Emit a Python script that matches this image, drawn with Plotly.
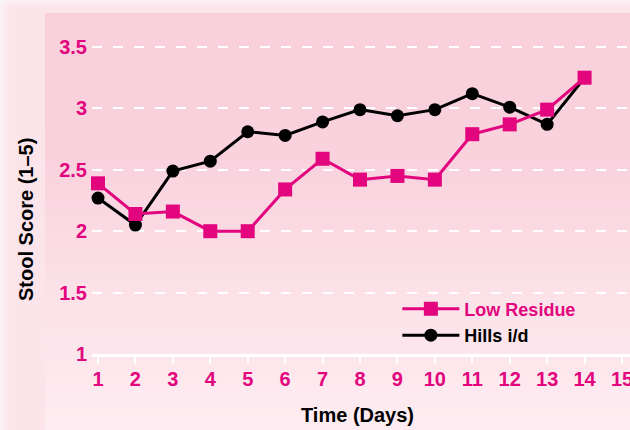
import plotly.graph_objects as go

# ---- data ----
days = list(range(1, 15))
low_residue = [2.39, 2.14, 2.16, 2.00, 2.00, 2.34, 2.59, 2.42, 2.45, 2.42, 2.79, 2.87, 2.99, 3.25]
hills_id = [2.27, 2.05, 2.49, 2.57, 2.81, 2.78, 2.89, 2.99, 2.94, 2.99, 3.12, 3.01, 2.87, 3.25]
x_ticks = list(range(1, 16))
x_tick_labels = [str(v) for v in x_ticks]
y_ticks = [1, 1.5, 2, 2.5, 3, 3.5]
y_tick_labels = ["1", "1.5", "2", "2.5", "3", "3.5"]

PINK = "#e2057e"
FONT = "'Liberation Sans', Arial, sans-serif"
W, H = 630, 430
L, T, B = 92, 14, 76
PW, PH = W - L, H - T - B


def px_x(p):
    return (p - L) / PW


def px_y(p):
    return (H - B - p) / PH


fig = go.Figure()
fig.add_trace(go.Scatter(
    x=days, y=hills_id, name="Hills i/d", mode="lines+markers",
    line=dict(color="black", width=3),
    marker=dict(symbol="circle", size=13, color="black"),
    cliponaxis=False,
))
fig.add_trace(go.Scatter(
    x=days, y=low_residue, name="<span style='color:%s'>Low Residue</span>" % PINK,
    mode="lines+markers",
    line=dict(color=PINK, width=3),
    marker=dict(symbol="square", size=14, color=PINK),
    cliponaxis=False,
))

# ---- background styling (gradient panel) ----
shapes = []


def lerp(c1, c2, t):
    return tuple(round(a + (b - a) * t) for a, b in zip(c1, c2))


stops = [(14, (249, 208, 220)), (160, (249, 210, 222)), (300, (252, 226, 233)), (430, (253, 236, 241))]
n = 60
top_px, bot_px = 14, 430
for i in range(n):
    y0p = top_px + (bot_px - top_px) * i / n
    y1p = top_px + (bot_px - top_px) * (i + 1) / n
    ym = (y0p + y1p) / 2
    for (a, ca), (b, cb) in zip(stops[:-1], stops[1:]):
        if a <= ym <= b:
            c = lerp(ca, cb, (ym - a) / (b - a))
            break
    shapes.append(dict(type="rect", xref="paper", yref="paper", layer="below",
                       x0=px_x(45), x1=1.0,
                       y0=px_y(y1p), y1=px_y(y0p) + 0.003,
                       fillcolor="rgb(%d,%d,%d)" % c, line=dict(width=0)))

# outer glow near top and left edges
for k in range(8):
    op = 0.55 * (1 - k / 8)
    shapes.append(dict(type="rect", xref="paper", yref="paper", layer="below",
                       x0=px_x(0), x1=px_x(k * 1.5 + 1.5),
                       y0=px_y(430), y1=px_y(0),
                       fillcolor="rgba(255,255,255,%.3f)" % (op / 3), line=dict(width=0)))
    shapes.append(dict(type="rect", xref="paper", yref="paper", layer="below",
                       x0=px_x(0), x1=1.0,
                       y0=px_y(k * 1.2 + 1.2), y1=px_y(0),
                       fillcolor="rgba(255,255,255,%.3f)" % (op / 3), line=dict(width=0)))

fig.update_layout(
    width=W, height=H,
    margin=dict(l=L, r=0, t=T, b=B, autoexpand=False),
    paper_bgcolor="rgb(252,228,235)",
    plot_bgcolor="rgba(0,0,0,0)",
    shapes=shapes,
    font=dict(family=FONT, size=20, color="black", weight="bold"),
    showlegend=True,
    legend=dict(
        x=0.5676, y=0.094, xanchor="left", yanchor="middle",
        bgcolor="rgba(0,0,0,0)", traceorder="reversed",
        font=dict(family=FONT, size=18, color="black", weight="bold"),
        itemwidth=57, tracegroupgap=0,
    ),
    xaxis=dict(
        range=[1 - 6 / 37.43, 15 + 8 / 37.43],
        tickmode="array", tickvals=x_ticks, ticktext=x_tick_labels,
        ticks="outside", ticklen=7, tickwidth=2, tickcolor="white",
        tickfont=dict(family=FONT, size=20, color=PINK, weight="bold"),
        ticklabeloverflow="allow", ticklabelstandoff=-2,
        showgrid=False, zeroline=False,
        showline=True, linecolor="white", linewidth=3,
    ),
    yaxis=dict(
        range=[1, 1 + PH / 122.8],
        tickmode="array", tickvals=y_ticks, ticktext=y_tick_labels,
        ticks="", tickfont=dict(family=FONT, size=20, color=PINK, weight="bold"),
        showgrid=True, gridcolor="white", gridwidth=2, griddash="10px,11px",
        zeroline=False, showline=False, ticklabelstandoff=4,
    ),
    annotations=[
        dict(text="Time (Days)", xref="paper", yref="paper",
             x=px_x(357), y=px_y(415), showarrow=False,
             xanchor="center", yanchor="middle",
             font=dict(family=FONT, size=20, color="black", weight="bold")),
        dict(text="Stool Score (1\u20135)", xref="paper", yref="paper",
             x=px_x(26), y=px_y(220), showarrow=False, textangle=-90,
             xanchor="center", yanchor="middle",
             font=dict(family=FONT, size=20, color="black", weight="bold")),
    ],
)

fig.write_html("out.html", config={"displayModeBar": False},
               post_script="document.body.style.margin='0';")
